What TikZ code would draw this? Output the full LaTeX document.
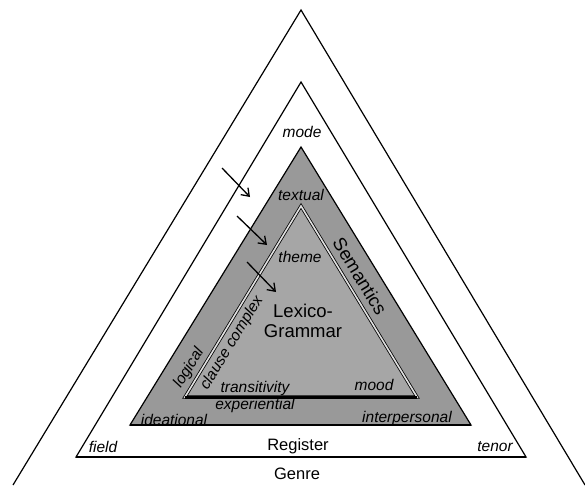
\documentclass[tikz,border=0pt]{standalone}
\usepackage{fontspec}
\setmainfont{Liberation Sans}
\usetikzlibrary{arrows.meta}

\begin{document}
\begin{tikzpicture}[x=1pt, y=-1pt,
        side/.style={draw, line width=1.2pt, line join=miter},
        lbl/.style={font=\fontsize{15.5}{17}\selectfont\itshape, inner sep=0pt},
        lvl/.style={font=\fontsize{16.5}{18}\selectfont, inner sep=0pt},
        big/.style={font=\fontsize{18.5}{20}\selectfont, inner sep=0pt, align=center},
        arr/.style={draw, line width=1.3pt, -{Straight Barb[length=7pt, width=10pt]}}
    ]
    \useasboundingbox (0,0) rectangle (585,485);
    % genre
    \coordinate (gl) at (13,485);
    \coordinate (gt) at (301,10);
    \coordinate (gr) at (585,485);
    \draw[side] (gl) -- (gt) -- (gr);
    % register
    \coordinate (rl) at (76,457);
    \coordinate (rt) at (301,82);
    \coordinate (rr) at (526,457);
    \draw[side] (rl) -- (rt) -- (rr) -- cycle;
    \draw[line width=2pt] (rl) -- (rr);
    % semantics
    \coordinate (sl) at (130,425);
    \coordinate (st) at (301,147);
    \coordinate (sr) at (471,425);
    \filldraw[side, fill=black!40] (sl) -- (st) -- (sr) -- cycle;
    \draw[line width=2pt] (sl) -- (sr);
    % lexico-grammar
    \coordinate (ll) at (185,397);
    \coordinate (lt) at (301,206);
    \coordinate (lr) at (417,397);
    \fill[black!35] (ll) -- (lt) -- (lr) -- cycle;
    \draw[line width=0.8pt, double=black!12, double distance=1.6pt, line join=miter] (ll) -- (lt) -- (lr) -- cycle;
    \draw[line width=3pt] (ll) -- (lr);
    % arrows
    \coordinate (a1) at (222,168);
    \coordinate (b1) at (250,197);
    \coordinate (a2) at (237,216);
    \coordinate (b2) at (267,245);
    \coordinate (a3) at (247,262);
    \coordinate (b3) at (276,292);
    \draw[arr] (a1) -- (b1);
    \draw[arr] (a2) -- (b2);
    \draw[arr] (a3) -- (b3);
    % labels
    \node[lbl] (mode) at (302,132) {mode};
    \node[lbl] (textual) at (301,195) {textual};
    \node[lbl] (theme) at (300,257) {theme};
    \node[big] (lexgr) at (303,321) {Lexico-\\Grammar};
    \node[big, rotate=-58.6] (sem) at (360,276) {Semantics};
    \node[lbl, rotate=58.6] (clause) at (232,343) {clause complex};
    \node[lbl, rotate=58.6] (logical) at (189,368) {logical};
    \node[lbl] (trans) at (255,388) {transitivity};
    \node[lbl] (mood) at (374,385) {mood};
    \node[lbl] (exper) at (255,405) {experiential};
    \node[lbl] (ideat) at (174,420) {ideational};
    \node[lbl] (inter) at (407,418) {interpersonal};
    \node[lbl] (field) at (103,447) {field};
    \node[lbl] (tenor) at (495,447) {tenor};
    \node[lvl] (reg) at (298,446) {Register};
    \node[lvl] (genre) at (297,474) {Genre};
\end{tikzpicture}
\end{document}
